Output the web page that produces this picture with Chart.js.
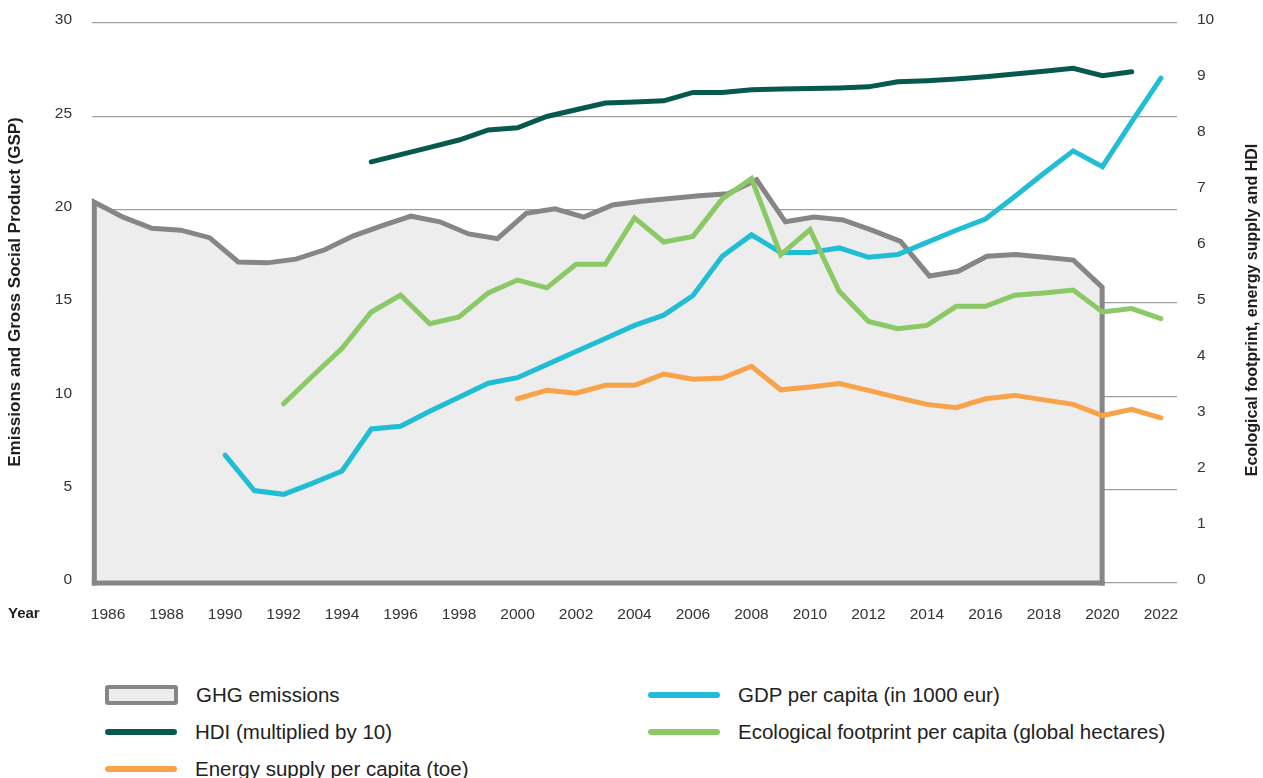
<!DOCTYPE html>
<html>
<head>
<meta charset="utf-8">
<title>Emissions, GSP and footprint</title>
<script src="https://cdn.jsdelivr.net/npm/chart.js@4.4.1/dist/chart.umd.min.js"></script>
<style>
    body { margin: 0; background: #fff; font-family: "Liberation Sans", Arial, sans-serif; }
    #wrap { position: relative; width: 1263px; height: 778px; }
    #chartBox { position: absolute; left: 0; top: 0; width: 1263px; height: 640px; }
    #legend {
        position: absolute; left: 105px; top: 676px;
        display: grid; grid-template-columns: 543px auto; grid-auto-rows: 37px;
    }
    .item { display: flex; align-items: center; font-size: 20.5px; color: #222; white-space: nowrap; }
    .sym { width: 72px; height: 6px; border-radius: 3px; margin-right: 18px; }
    .sym.box { width: 65px; height: 12px; border: 4px solid #878685; background: #ededed; border-radius: 3px; }
</style>
</head>
<body>
<div id="wrap">
    <div id="chartBox"><canvas id="mainChart"></canvas></div>
    <div id="legend"></div>
</div>
<script>
// data
const years = [
    1985, 1986, 1987, 1988, 1989, 1990, 1991, 1992, 1993, 1994,
    1995, 1996, 1997, 1998, 1999, 2000, 2001, 2002, 2003, 2004,
    2005, 2006, 2007, 2008, 2009, 2010, 2011, 2012, 2013, 2014,
    2015, 2016, 2017, 2018, 2019, 2020, 2021, 2022
];
const tickYears = [1986, 1988, 1990, 1992, 1994, 1996, 1998, 2000, 2002, 2004, 2006, 2008, 2010, 2012, 2014, 2016, 2018, 2020, 2022];
const leftTicks = [0, 5, 10, 15, 20, 25, 30];
const rightTicks = [0, 1, 2, 3, 4, 5, 6, 7, 8, 9, 10];

// left axis
const ghg = [
    20.4, 19.6, 19.0, 18.9, 18.5, 17.2, 17.15, 17.35, 17.85, 18.6,
    19.15, 19.65, 19.35, 18.7, 18.45, 19.8, 20.05, 19.6, 20.25, 20.45,
    20.6, 20.75, 20.85, 21.6, 19.35, 19.6, 19.45, 18.9, 18.3, 16.45,
    16.7, 17.5, 17.6, 17.45, 17.3, 15.85, null, null
];
const gdp = [
    null, null, null, null, null, 6.85, 4.95, 4.75, 5.35, 6.0,
    8.25, 8.4, 9.2, 9.95, 10.7, 11.0, 11.7, 12.4, 13.1, 13.8,
    14.35, 15.4, 17.5, 18.65, 17.7, 17.7, 17.95, 17.45, 17.6, 18.25,
    18.9, 19.5, 20.7, 21.95, 23.15, 22.3, 24.7, 27.05
];
// right axis
const hdiX10 = [
    null, null, null, null, null, null, null, null, null, null,
    7.52, 7.65, 7.78, 7.91, 8.09, 8.13, 8.33, 8.45, 8.57, 8.59,
    8.61, 8.76, 8.76, 8.81, 8.82, 8.83, 8.84, 8.86, 8.95, 8.97,
    9.0, 9.04, 9.09, 9.14, 9.19, 9.06, 9.13, null
];
const footprint = [
    null, null, null, null, null, null, null, 3.2, 3.7, 4.19,
    4.84, 5.14, 4.63, 4.75, 5.18, 5.41, 5.27, 5.69, 5.69, 6.52,
    6.09, 6.19, 6.86, 7.22, 5.86, 6.31, 5.21, 4.67, 4.54, 4.6,
    4.94, 4.94, 5.14, 5.18, 5.23, 4.84, 4.9, 4.72
];
const energy = [
    null, null, null, null, null, null, null, null, null, null,
    null, null, null, null, null, 3.29, 3.44, 3.39, 3.53, 3.53,
    3.73, 3.64, 3.66, 3.87, 3.45, 3.5, 3.56, 3.44, 3.31, 3.19,
    3.13, 3.29, 3.35, 3.27, 3.19, 2.99, 3.1, 2.95
];

const FONT = '"Liberation Sans", Arial, sans-serif';
Chart.defaults.font.family = FONT;

function points(values) {
    return years.map((yr, i) => ({ x: yr, y: values[i] }));
}

// GHG drawn as a closed shape: down to zero at both ends
const ghgPts = points(ghg).filter(p => p.y !== null);
const ghgFirst = ghgPts[0].x;
const ghgLast = ghgPts[ghgPts.length - 1].x;
const ghgShape = [{ x: ghgFirst, y: 0 }].concat(ghgPts, [{ x: ghgLast, y: 0 }]);
const ghgBase = [{ x: ghgFirst, y: 0 }, { x: ghgLast, y: 0 }];

function lineSet(label, values, color, axis, order) {
    return {
        label: label,
        data: points(values),
        xAxisID: 'x',
        yAxisID: axis,
        borderColor: color,
        backgroundColor: color,
        borderWidth: 5,
        borderCapStyle: 'round',
        borderJoinStyle: 'miter',
        pointRadius: 0,
        fill: false,
        tension: 0,
        clip: false,
        order: order,
        legendSymbol: 'line'
    };
}

// y axes: fixed width, no extra room asked above the plot
function fixY(width) {
    return (axis) => {
        axis.width = width;
        axis.paddingTop = 0;
    };
}

// axis titles drawn with the same orientation on both sides
const axisTitles = {
    id: 'axisTitles',
    afterDraw(chart) {
        const ctx = chart.ctx;
        const area = chart.chartArea;
        const mid = (area.top + area.bottom) / 2;
        ctx.save();
        ctx.fillStyle = '#1e1e1e';
        ctx.textAlign = 'center';
        ctx.textBaseline = 'middle';
        ctx.font = 'bold 17px ' + FONT;

        ctx.save();
        ctx.translate(15, mid - 11);
        ctx.rotate(-Math.PI / 2);
        ctx.fillText('Emissions and Gross Social Product (GSP)', 0, 0);
        ctx.restore();

        ctx.save();
        ctx.font = 'bold 16px ' + FONT;
        ctx.translate(1253, mid + 7);
        ctx.rotate(-Math.PI / 2);
        ctx.fillText('Ecological footprint, energy supply and HDI', 0, 0);
        ctx.restore();

        ctx.font = 'bold 15px ' + FONT;
        ctx.textAlign = 'left';
        ctx.fillText('Year', 8, area.bottom + 31);
        ctx.restore();
    }
};

const chart = new Chart(document.getElementById('mainChart'), {
    type: 'line',
    data: {
        datasets: [
            {
                label: 'GHG emissions',
                data: ghgShape,
                xAxisID: 'xg',
                yAxisID: 'yL',
                borderColor: '#878685',
                backgroundColor: '#ededed',
                borderWidth: 5,
                borderCapStyle: 'square',
                borderJoinStyle: 'miter',
                pointRadius: 0,
                fill: 'origin',
                tension: 0,
                clip: false,
                order: 10,
                legendSymbol: 'box'
            },
            {
                label: 'GHG base',
                data: ghgBase,
                xAxisID: 'xg',
                yAxisID: 'yL',
                borderColor: '#878685',
                borderWidth: 5,
                borderCapStyle: 'square',
                pointRadius: 0,
                fill: false,
                clip: false,
                order: 9,
                legendSymbol: null
            },
            lineSet('GDP per capita (in 1000 eur)', gdp, '#20bdd5', 'yL', 3),
            lineSet('HDI (multiplied by 10)', hdiX10, '#07594d', 'yR', 2),
            lineSet('Ecological footprint per capita (global hectares)', footprint, '#8bc866', 'yR', 0),
            lineSet('Energy supply per capita (toe)', energy, '#f8a349', 'yR', 1)
        ]
    },
    options: {
        responsive: true,
        maintainAspectRatio: false,
        animation: false,
        layout: {
            padding: { top: 23, right: 0, bottom: 0, left: 0 }
        },
        plugins: {
            legend: { display: false },
            tooltip: { enabled: false }
        },
        scales: {
            x: {
                type: 'linear',
                position: 'bottom',
                min: 1985.45,
                max: 2022.55,
                grid: { display: false, drawTicks: false },
                border: { display: false },
                afterBuildTicks: (axis) => {
                    axis.ticks = tickYears.map(v => ({ value: v }));
                },
                afterFit: (axis) => {
                    axis.height = 57;
                },
                ticks: {
                    autoSkip: false,
                    maxRotation: 0,
                    padding: 22,
                    color: '#333',
                    font: { size: 15.5 },
                    callback: (v) => String(v)
                }
            },
            xg: {
                type: 'linear',
                display: false,
                min: 1984.92,
                max: 2022.6
            },
            yL: {
                position: 'left',
                min: 0,
                max: 30,
                afterBuildTicks: (axis) => {
                    axis.ticks = leftTicks.map(v => ({ value: v }));
                },
                afterFit: fixY(92),
                grid: { color: '#9e9e9e', lineWidth: 1.2, drawTicks: false },
                border: { display: false },
                ticks: {
                    padding: 20,
                    labelOffset: -3,
                    color: '#333',
                    font: { size: 15.5 }
                }
            },
            yR: {
                position: 'right',
                min: 0,
                max: 10,
                afterBuildTicks: (axis) => {
                    axis.ticks = rightTicks.map(v => ({ value: v }));
                },
                afterFit: fixY(86),
                grid: { display: false, drawTicks: false },
                border: { display: false },
                ticks: {
                    padding: 20,
                    labelOffset: -3,
                    color: '#333',
                    font: { size: 15.5 }
                }
            }
        }
    },
    plugins: [axisTitles]
});

// html legend, two columns
const legendBox = document.getElementById('legend');
chart.data.datasets.forEach(ds => {
    if (!ds.legendSymbol) return;
    const item = document.createElement('div');
    item.className = 'item';
    const sym = document.createElement('span');
    if (ds.legendSymbol === 'box') {
        sym.className = 'sym box';
    } else {
        sym.className = 'sym';
        sym.style.background = ds.borderColor;
    }
    const txt = document.createElement('span');
    txt.textContent = ds.label;
    item.appendChild(sym);
    item.appendChild(txt);
    legendBox.appendChild(item);
});
</script>
</body>
</html>
